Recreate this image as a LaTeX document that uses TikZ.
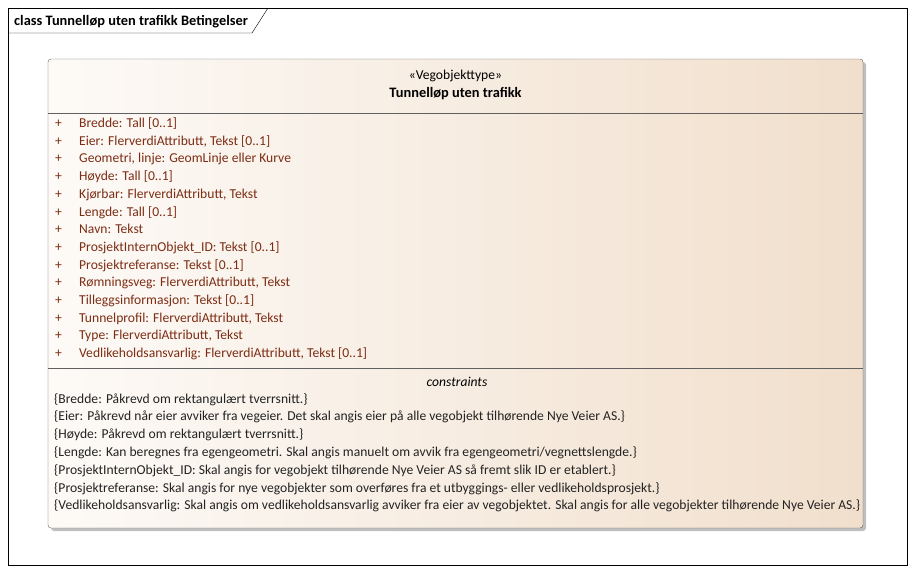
\documentclass[tikz,border=0pt]{standalone}
\usepackage{fontspec}
\setmainfont{Carlito}
\definecolor{boxleft}{RGB}{253,250,247}
\definecolor{boxright}{RGB}{241,223,204}
\definecolor{boxline}{RGB}{96,96,96}
\definecolor{attrred}{RGB}{125,45,20}
\definecolor{constrgrey}{RGB}{35,35,35}
\begin{document}
\begin{tikzpicture}[x=1pt, y=-1pt,
    txt/.style={inner sep=0pt, font=\fontsize{13.6}{15}\selectfont},
    boldtxt/.style={inner sep=0pt, font=\fontsize{14.4}{16}\selectfont\bfseries},
    attr/.style={txt, anchor=base west, text=attrred},
    plus/.style={txt, anchor=base, text=attrred},
    constr/.style={txt, anchor=base west, text=constrgrey}]
    \useasboundingbox (0,0) rectangle (916,573);

    % Diagram frame
    % ---------------------
    \draw[black] (8,8) rectangle (907,565);
    \draw[black] (8,33) -- (252,33) -- (268,8);
    \node[boldtxt, anchor=base west] (title) at (14,25) {class Tunnelløp uten trafikk Betingelser};

    % Class box
    % ---------------------
    \fill[black!25, rounded corners=3] (51,62) rectangle (866,531);
    \shade[left color=boxleft, right color=boxright, rounded corners=3] (48,59) rectangle (863,528);
    \draw[boxline, rounded corners=3] (48,59) rectangle (863,528);
    \draw[boxline] (48,113) -- (863,113);
    \draw[boxline] (48,368) -- (863,368);
    \node[txt, anchor=base] (stereo) at (455.5,79) {«Vegobjekttype»};
    \node[boldtxt, anchor=base] (classname) at (455.5,97) {Tunnelløp uten trafikk};

    % Attributes
    % ---------------------
    \foreach \txtline [count=\i] in {Bredde: Tall [0..1], {Eier: FlerverdiAttributt, Tekst [0..1]}, {Geometri, linje: GeomLinje eller Kurve}, Høyde: Tall [0..1], {Kjørbar: FlerverdiAttributt, Tekst}, Lengde: Tall [0..1], Navn: Tekst, ProsjektInternObjekt\_ID: Tekst [0..1], Prosjektreferanse: Tekst [0..1], {Rømningsveg: FlerverdiAttributt, Tekst}, Tilleggsinformasjon: Tekst [0..1], {Tunnelprofil: FlerverdiAttributt, Tekst}, {Type: FlerverdiAttributt, Tekst}, {Vedlikeholdsansvarlig: FlerverdiAttributt, Tekst [0..1]}}
    {
        \node[plus] (plus\i) at (58.5,127.5+17.7*\i-17.7) {+};
        \node[attr] (attr\i) at (79,127.5+17.7*\i-17.7) {\txtline};
    }

    % Constraints
    % ---------------------
    \node[txt, anchor=base, font=\fontsize{13.6}{15}\selectfont\itshape] (constrhead) at (457,386) {constraints};
    \foreach \txtline [count=\i] in {{\{Bredde: Påkrevd om rektangulært tverrsnitt.\}}, {\{Eier: Påkrevd når eier avviker fra vegeier. Det skal angis eier på alle vegobjekt tilhørende Nye Veier AS.\}}, {\{Høyde: Påkrevd om rektangulært tverrsnitt.\}}, {\{Lengde: Kan beregnes fra egengeometri. Skal angis manuelt om avvik fra egengeometri/vegnettslengde.\}}, {\{ProsjektInternObjekt\_ID: Skal angis for vegobjekt tilhørende Nye Veier AS så fremt slik ID er etablert.\}}, {\{Prosjektreferanse: Skal angis for nye vegobjekter som overføres fra et utbyggings- eller vedlikeholdsprosjekt.\}}, {\{Vedlikeholdsansvarlig: Skal angis om vedlikeholdsansvarlig avviker fra eier av vegobjektet. Skal angis for alle vegobjekter tilhørende Nye Veier AS.\}}}
    {
        \node[constr] (constr\i) at (54,403+17.83*\i-17.83) {\txtline};
    }
\end{tikzpicture}
\end{document}
